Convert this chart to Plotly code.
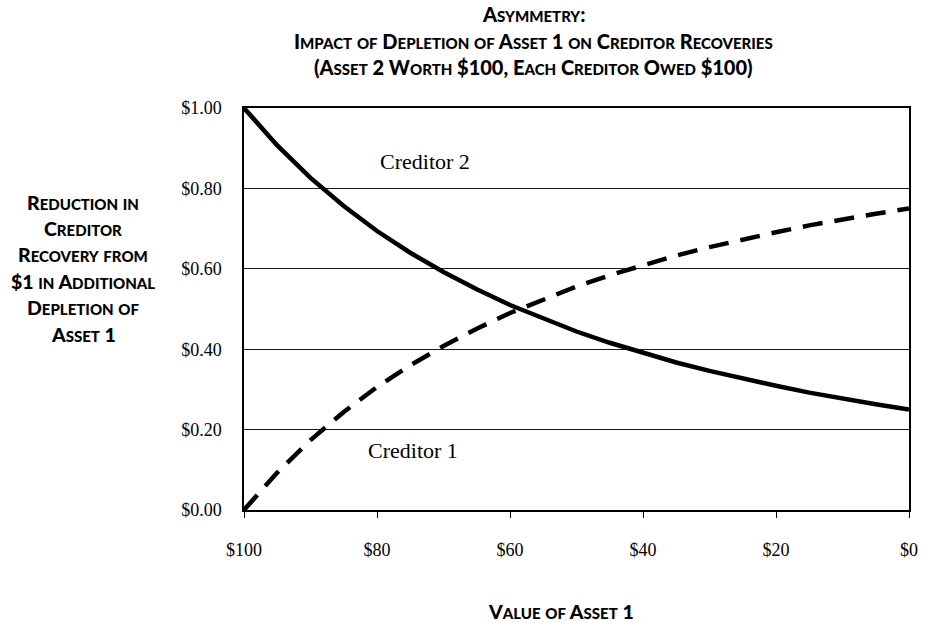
import plotly.graph_objects as go

# ---- data ----
asset1_values = [100, 95, 90, 85, 80, 75, 70, 65, 60, 55, 50, 45, 40, 35, 30, 25, 20, 15, 10, 5, 0]
creditor2 = [1.00, 0.907, 0.826, 0.756, 0.694, 0.640, 0.592, 0.549, 0.510, 0.476, 0.444,
             0.416, 0.391, 0.367, 0.346, 0.327, 0.309, 0.292, 0.277, 0.263, 0.250]
creditor1 = [0.00, 0.093, 0.174, 0.244, 0.306, 0.360, 0.408, 0.451, 0.490, 0.524, 0.556,
             0.584, 0.609, 0.633, 0.654, 0.673, 0.691, 0.708, 0.723, 0.737, 0.750]
x_ticks = [100, 80, 60, 40, 20, 0]
x_tick_labels = ["$100", "$80", "$60", "$40", "$20", "$0"]
y_ticks = [0, 0.2, 0.4, 0.6, 0.8, 1.0]
y_tick_labels = ["$0.00", "$0.20", "$0.40", "$0.60", "$0.80", "$1.00"]

title_lines = ["Asymmetry:",
               "Impact of Depletion of Asset 1 on Creditor Recoveries",
               "(Asset 2 Worth $100, Each Creditor Owed $100)"]
y_title_lines = ["Reduction in", "Creditor", "Recovery from", "$1 in Additional",
                 "Depletion of", "Asset 1"]
x_title = "Value of Asset 1"

SANS = "Lato, 'Open Sans', sans-serif"
SERIF = "'Liberation Serif', 'DejaVu Serif', serif"


def smallcaps(text, small):
    out = []
    buf = ""
    for ch in text:
        if ch.islower():
            buf += ch.upper()
        else:
            if buf:
                out.append('<span style="font-size:%spx">%s</span>' % (small, buf))
                buf = ""
            out.append(ch)
    if buf:
        out.append('<span style="font-size:%spx">%s</span>' % (small, buf))
    return "".join(out)


fig = go.Figure()
fig.add_trace(go.Scatter(x=asset1_values, y=creditor2, mode="lines", name="Creditor 2",
                         line=dict(color="black", width=4.5), showlegend=False))
fig.add_trace(go.Scatter(x=asset1_values, y=creditor1, mode="lines", name="Creditor 1",
                         line=dict(color="black", width=4.5, dash="20px,12px"), showlegend=False))

L, R, T, B = 244, 918, 108, 510
W, H = 929, 623


def px2paper(px, py):
    return (px - L) / (R - L), (B - py) / (B - T)


TFONT = dict(family=SANS, size=20, color="black", weight=900)
annotations = []
for line, py in zip(title_lines, [14, 41, 67]):
    xp, yp = px2paper(537, py)
    annotations.append(dict(text=smallcaps(line, 15), x=xp, y=yp, xref="paper", yref="paper",
                            xanchor="center", yanchor="middle", showarrow=False, font=TFONT))
YFONT = dict(family=SANS, size=19.5, color="black", weight=900)
for i, line in enumerate(y_title_lines):
    xp, yp = px2paper(81, 202 + i * 26.4)
    annotations.append(dict(text=smallcaps(line, 15), x=xp, y=yp, xref="paper", yref="paper",
                            xanchor="center", yanchor="middle", showarrow=False, font=YFONT))
xp, yp = px2paper(565, 611)
annotations.append(dict(text=smallcaps(x_title, 15), x=xp, y=yp, xref="paper", yref="paper",
                        xanchor="center", yanchor="middle", showarrow=False, font=YFONT))
annotations.append(dict(text="Creditor 2", x=79.8, y=0.868, xref="x", yref="y",
                        xanchor="left", yanchor="middle", showarrow=False,
                        font=dict(family=SERIF, size=22, color="black")))
annotations.append(dict(text="Creditor 1", x=81.6, y=0.147, xref="x", yref="y",
                        xanchor="left", yanchor="middle", showarrow=False,
                        font=dict(family=SERIF, size=22, color="black")))

fig.update_layout(
    width=W, height=H,
    margin=dict(l=L, r=W - R, t=T, b=H - B),
    paper_bgcolor="white", plot_bgcolor="white",
    annotations=annotations,
    xaxis=dict(range=[100, 0], tickvals=x_ticks, ticktext=x_tick_labels,
               showgrid=False, zeroline=False, showline=True, linecolor="black",
               linewidth=1.5, mirror=True, ticks="outside", ticklen=6, tickcolor="black",
               tickfont=dict(family=SERIF, size=18, color="black"), ticklabelstandoff=17),
    yaxis=dict(range=[0, 1], tickvals=y_ticks, ticktext=y_tick_labels,
               showgrid=True, gridcolor="#1a1a1a", gridwidth=1, zeroline=False,
               showline=True, linecolor="black", linewidth=1.5, mirror=True, ticks="",
               tickfont=dict(family=SERIF, size=18, color="black"), ticklabelstandoff=17),
)

fig.write_html("out.html", config={"displayModeBar": False},
               post_script="document.body.style.margin='0';document.body.style.overflow='hidden';")
